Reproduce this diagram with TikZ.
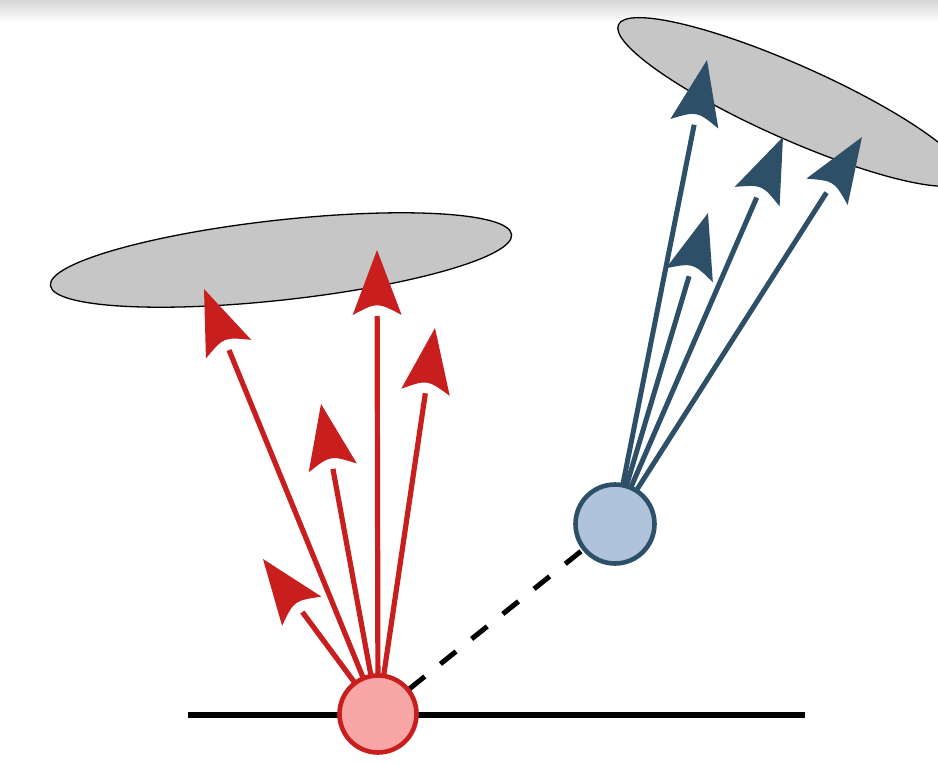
\documentclass[tikz,border=0pt]{standalone}
\usetikzlibrary{calc,shapes.geometric}
\definecolor{myred}{RGB}{200,30,30}
\definecolor{mypink}{RGB}{248,165,165}
\definecolor{mynavy}{RGB}{45,80,104}
\definecolor{mysky}{RGB}{175,196,218}
\definecolor{plategray}{RGB}{198,198,198}
% #1 origin coordinate, #2 tip coordinate, #3 style
\newcommand{\fanarrow}[3]{%
  \draw[#3, shorten >=66pt] (#1) -- (#2);
  \fill[#3] (#2) -- ($(#2)!65pt!(#1)!24.5pt!90:(#2)$)
    .. controls ($(#2)!52pt!(#1)$) .. ($(#2)!65pt!(#1)!24.5pt!-90:(#2)$) -- cycle;
}
\begin{document}
\begin{tikzpicture}[x=1pt,y=-1pt,
  plate/.style={ellipse, draw=black, line width=1.3pt, fill=plategray, inner sep=0pt},
  redarrow/.style={line width=5.2pt, color=myred},
  bluearrow/.style={line width=5pt, color=mynavy},
  site/.style={circle, line width=4.6pt, inner sep=0pt, minimum size=78pt},
  link/.style={line width=5pt, dash pattern=on 20pt off 20pt},
  ground/.style={line width=6pt}]
\useasboundingbox (0,0) rectangle (938,763);
\clip (0,0) rectangle (938,763);
\shade[top color=black!16, bottom color=white] (0,0) rectangle (938,22);

% plates
\node[plate, minimum width=464pt, minimum height=80pt, rotate=6.3] (pl) at (281,260) {};
\node[plate, minimum width=380pt, minimum height=74pt, rotate=-24] (pr) at (792,102) {};

% centres
\coordinate (R) at (378,714);
\coordinate (B) at (615,524);
\coordinate (gl) at (188,715);
\coordinate (gr) at (805,715);

% red tips
\coordinate (r1) at (263,559);
\coordinate (r2) at (204,289);
\coordinate (r3) at (321,404);
\coordinate (r4) at (377,250);
\coordinate (r5) at (435,328);
% blue tips
\coordinate (b1) at (707,60);
\coordinate (b2) at (708,213);
\coordinate (b3) at (783,137);
\coordinate (b4) at (862,137);

\fanarrow{R}{r1}{redarrow}
\fanarrow{R}{r2}{redarrow}
\fanarrow{R}{r3}{redarrow}
\fanarrow{R}{r4}{redarrow}
\fanarrow{R}{r5}{redarrow}

\fanarrow{B}{b1}{bluearrow}
\fanarrow{B}{b2}{bluearrow}
\fanarrow{B}{b3}{bluearrow}
\fanarrow{B}{b4}{bluearrow}

\draw[link] (R) -- (B);
\draw[ground] (gl) -- (gr);

\node[site, draw=myred, fill=mypink, minimum size=77pt] (Rn) at (R) {};
\node[site, draw=mynavy, fill=mysky, minimum size=79pt] (Bn) at (B) {};
\end{tikzpicture}
\end{document}
